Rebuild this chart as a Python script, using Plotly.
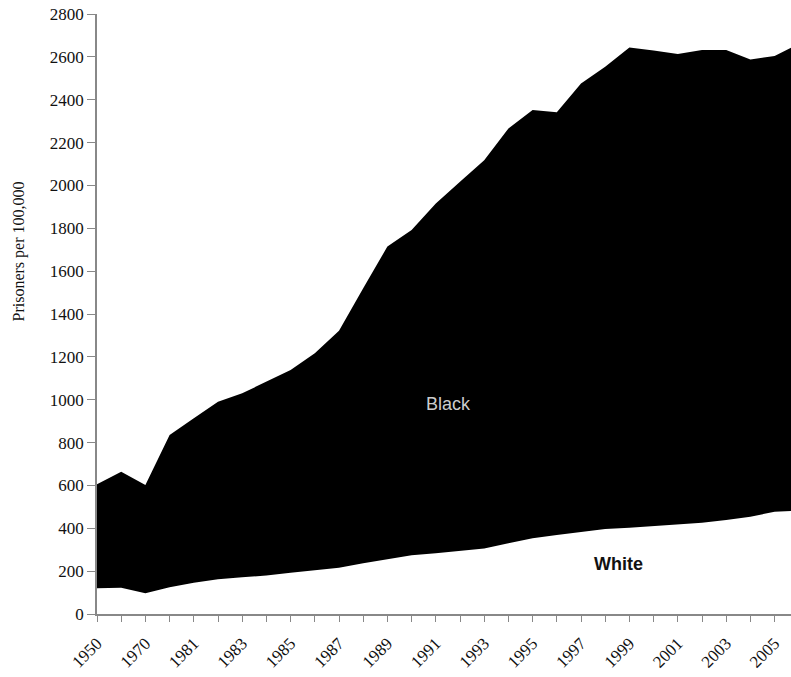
import plotly.graph_objects as go

years = ["1950", "1960", "1970", "1980"] + [str(y) for y in range(1981, 2007)]
black = [605, 664, 602, 835, 913, 991, 1030, 1084, 1139, 1217, 1322, 1520, 1715,
         1792, 1916, 2017, 2118, 2266, 2352, 2341, 2476, 2554, 2644, 2630, 2613,
         2632, 2632, 2588, 2604, 2661]
white = [120, 123, 97, 125, 146, 162, 171, 180, 193, 205, 216, 237, 257, 274, 283,
         295, 306, 330, 353, 369, 384, 397, 403, 411, 419, 426, 439, 454, 477, 483]
y_ticks = list(range(0, 2801, 200))

idx = list(range(len(years)))
tick_text = [y if i % 2 == 0 else "" for i, y in enumerate(years)]

fig = go.Figure()
fig.add_trace(go.Scatter(x=idx, y=black, name="Black", mode="lines",
                         line=dict(width=0, color="#000000"),
                         fill="tozeroy", fillcolor="#000000", hoverinfo="skip"))
fig.add_trace(go.Scatter(x=idx, y=white, name="White", mode="lines",
                         line=dict(width=0, color="#ffffff"),
                         fill="tozeroy", fillcolor="#ffffff", hoverinfo="skip"))

W, H = 791, 677
L, R, T, B = 97, 0, 14, 63
plot_w = W - L - R
plot_h = H - T - B
xmax = plot_w / 24.2

fig.update_layout(
    width=W, height=H,
    margin=dict(l=L, r=R, t=T, b=B, autoexpand=False),
    paper_bgcolor="white", plot_bgcolor="white",
    showlegend=False,
    font=dict(family="Liberation Serif", size=17, color="#111111"),
    xaxis=dict(
        range=[0, xmax], tickmode="array", tickvals=idx, ticktext=tick_text,
        tickangle=-45, ticks="outside", ticklen=6, tickcolor="#888888",
        ticklabelstandoff=5, ticklabeloverflow="allow",
        showline=True, linecolor="#888888", linewidth=1.5,
        showgrid=False, zeroline=False, automargin=False,
        tickfont=dict(family="Liberation Serif", size=17, color="#111111"),
    ),
    yaxis=dict(
        range=[0, 2800], tickmode="array", tickvals=y_ticks,
        ticks="outside", ticklen=8, tickcolor="#888888",
        ticklabeloverflow="allow",
        showline=True, linecolor="#888888", linewidth=1.5,
        showgrid=False, zeroline=False, automargin=False,
        tickfont=dict(family="Liberation Serif", size=17, color="#111111"),
    ),
    annotations=[
        dict(text="Prisoners per 100,000", xref="paper", yref="paper",
             x=(18.5 - L) / plot_w, y=(H - B - 252) / plot_h, textangle=-90,
             showarrow=False, xanchor="center", yanchor="middle",
             font=dict(family="Liberation Serif", size=16, color="#111111")),
        dict(text="Black", xref="x", yref="y", x=14.53, y=980, showarrow=False,
             font=dict(family="Liberation Sans", size=18, color="#cccccc")),
        dict(text="<b>White</b>", xref="x", yref="y", x=21.53, y=233, showarrow=False,
             font=dict(family="Liberation Sans", size=18, color="#111111")),
    ],
)

fig.write_html("out.html",
               config={"displayModeBar": False},
               post_script="document.body.style.margin='0';document.body.style.overflow='hidden';")
